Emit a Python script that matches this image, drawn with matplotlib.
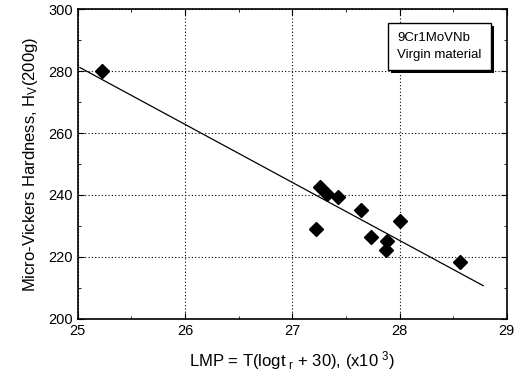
import numpy as np
import matplotlib
matplotlib.use("Agg")
import matplotlib.pyplot as plt
import matplotlib.patheffects as pe
from matplotlib.ticker import MultipleLocator

plt.rcParams['font.family'] = ['Liberation Sans', 'DejaVu Sans']
plt.rcParams['mathtext.default'] = 'regular'

# measured points (LMP x10^3, hardness HV)
lmp = [25.23, 27.22, 27.26, 27.32, 27.43, 27.64, 27.73, 27.88, 27.87, 28.00, 28.56]
hv = [280.1, 229.0, 242.7, 240.3, 239.2, 235.2, 226.5, 225.3, 222.3, 231.7, 218.5]

# linear fit shown on the chart
fit_slope = -18.72
fit_intercept = 749.5
fit_range = [25.02, 28.78]


def main():
    fig = plt.figure(figsize=(5.29, 3.77), dpi=100)
    ax = fig.add_axes([0.147, 0.154, 0.811, 0.822])

    xf = np.array(fit_range)
    ax.plot(xf, fit_intercept + fit_slope * xf, color='black', lw=0.9)
    ax.plot(lmp, hv, 'D', color='black', markersize=7.5, zorder=3)

    ax.set_xlim(25, 29)
    ax.set_ylim(200, 300)
    ax.xaxis.set_major_locator(MultipleLocator(1))
    ax.xaxis.set_minor_locator(MultipleLocator(0.5))
    ax.yaxis.set_major_locator(MultipleLocator(20))
    ax.yaxis.set_minor_locator(MultipleLocator(10))
    ax.tick_params(which='both', direction='in', top=True, right=True,
                   labelsize=10.5)
    ax.tick_params(which='major', length=4)
    ax.tick_params(which='minor', length=2.5)
    ax.grid(True, which='major', linestyle=(0, (1, 2)), color='black', lw=0.8)
    for s in ax.spines.values():
        s.set_linewidth(1.2)

    ax.set_xlabel(r'LMP = T(logt$_{\ r}$ + 30), (x10$^{\ 3}$)', fontsize=12, labelpad=8)
    ax.set_ylabel(r'Micro-Vickers Hardness, H$_{V}$(200g)', fontsize=12, labelpad=6)

    t = ax.text(0.745, 0.925, '9Cr1MoVNb\nVirgin material', transform=ax.transAxes,
                fontsize=9.5, va='top', ha='left', linespacing=1.5,
                bbox=dict(boxstyle='square,pad=0.7', facecolor='white',
                          edgecolor='black', lw=1.0))
    t.get_bbox_patch().set_path_effects([
        pe.SimplePatchShadow(offset=(2, -2), shadow_rgbFace='black', alpha=1),
        pe.Normal()])

    fig.savefig('out.png', dpi=100)


if __name__ == "__main__":
    main()
